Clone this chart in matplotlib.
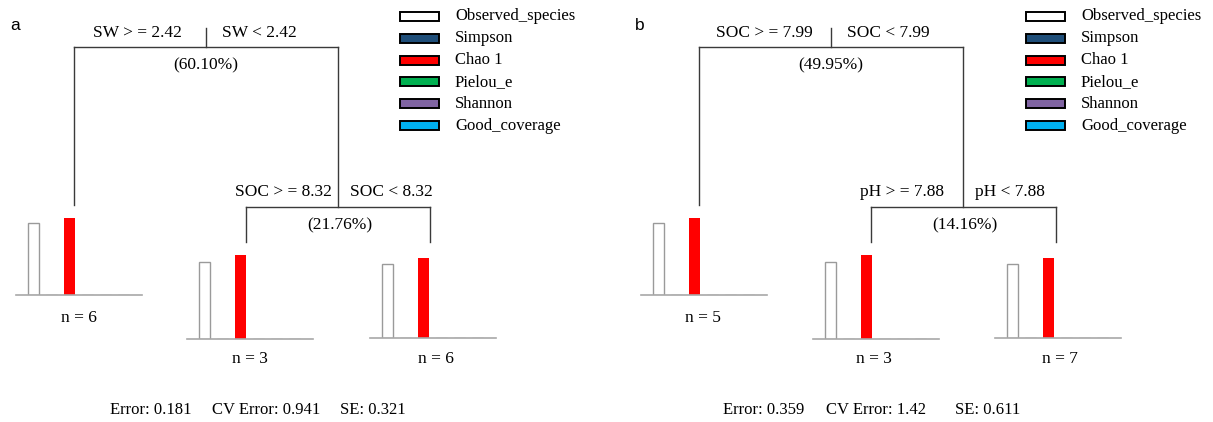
import matplotlib
matplotlib.use("Agg")
import matplotlib.pyplot as plt
from matplotlib.patches import Rectangle

plt.rcParams['font.family'] = ['Liberation Serif', 'DejaVu Serif']

# response variables shown in every leaf
variables = ["Observed_species", "Simpson", "Chao 1", "Pielou_e", "Shannon", "Good_coverage"]
var_colors = ["#ffffff", "#1f4e79", "#ff0000", "#00b050", "#8064a2", "#00b0f0"]

# panel a: splits, explained variance, leaf means and sizes
a_root_split = ["SW > = 2.42", "SW < 2.42"]
a_root_pct = "(60.10%)"
a_sub_split = ["SOC > = 8.32", "SOC < 8.32"]
a_sub_pct = "(21.76%)"
a_leaf_n = [6, 3, 6]
a_obs = [1640, 1750, 1680]
a_simpson = [1, 1, 1]
a_chao = [1750, 1910, 1820]
a_pielou = [0.7, 0.7, 0.7]
a_shannon = [7, 7, 7]
a_good = [1, 1, 1]
a_err = ["Error: 0.181", "CV Error: 0.941", "SE: 0.321"]

# panel b
b_root_split = ["SOC > = 7.99", "SOC < 7.99"]
b_root_pct = "(49.95%)"
b_sub_split = ["pH > = 7.88", "pH < 7.88"]
b_sub_pct = "(14.16%)"
b_leaf_n = [5, 3, 7]
b_obs = [1640, 1750, 1680]
b_simpson = [1, 1, 1]
b_chao = [1750, 1910, 1820]
b_pielou = [0.7, 0.7, 0.7]
b_shannon = [7, 7, 7]
b_good = [1, 1, 1]
b_err = ["Error: 0.359", "CV Error: 1.42", "SE: 0.611"]

W, H = 1213, 422
fig = plt.figure(figsize=(W / 100, H / 100), dpi=100)
ax = fig.add_axes([0, 0, 1, 1])
ax.set_xlim(0, W)
ax.set_ylim(H, 0)
ax.axis('off')

LC = "#3a3a3a"
FS = 12.5


def leaf(left, base, vals):
    lax = fig.add_axes([left / W, 1 - base / H, 126 / W, 88 / H])
    lax.patch.set_visible(False)
    lax.axis('off')
    lax.set_xlim(-0.97, 6.03)
    lax.set_ylim(0, 2000)
    edges = ["#9a9a9a", "#9a9a9a", "none", "#9a9a9a", "#9a9a9a", "#9a9a9a"]
    lax.bar(range(len(vals)), vals, width=0.61, color=var_colors,
            edgecolor=edges, linewidth=1.0)
    lax.axhline(0, color="#a8a8a8", lw=1.2, clip_on=False)


def panel(dx, label, root_split, root_pct, sub_split, sub_pct, ns, cols, errs,
          sub_x, sub_l, sub_r, leaf_pos, n_pos, err_x, leg_x, root_gap, sub_gap):
    rx = dx + 206
    lx = dx + 74
    ax.text(dx + 10, 25, label, family='Liberation Sans', fontsize=12.5,
            va='center', ha='left')
    # root split
    ax.plot([rx, rx], [28, 47], color=LC, lw=1)
    ax.plot([lx, sub_x], [47, 47], color=LC, lw=1)
    ax.plot([lx, lx], [47, 205], color=LC, lw=1)
    ax.plot([sub_x, sub_x], [47, 207], color=LC, lw=1)
    ax.text(rx - root_gap[0], 33, root_split[0], ha='right', va='center', fontsize=FS)
    ax.text(rx + root_gap[1], 33, root_split[1], ha='left', va='center', fontsize=FS)
    ax.text(rx, 65, root_pct, ha='center', va='center', fontsize=FS)
    # second split
    ax.plot([sub_l, sub_r], [207, 207], color=LC, lw=1)
    ax.plot([sub_l, sub_l], [207, 242], color=LC, lw=1)
    ax.plot([sub_r, sub_r], [207, 242], color=LC, lw=1)
    ax.text(sub_x - sub_gap[0], 192, sub_split[0], ha='right', va='center', fontsize=FS)
    ax.text(sub_x + sub_gap[1], 192, sub_split[1], ha='left', va='center', fontsize=FS)
    ax.text(sub_x + 2, 225, sub_pct, ha='center', va='center', fontsize=FS)
    # leaves
    for i in range(3):
        vals = [c[i] for c in cols]
        leaf(leaf_pos[i][0], leaf_pos[i][1], vals)
        ax.text(n_pos[i][0], n_pos[i][1], "n = %d" % ns[i], ha='center',
                va='center', fontsize=FS)
    # error line
    for t, x in zip(errs, err_x):
        ax.text(x, 410, t, ha='left', va='center', fontsize=12)
    # legend
    for j, (name, c) in enumerate(zip(variables, var_colors)):
        y = 16.5 + j * 21.8
        ax.add_patch(Rectangle((leg_x, y - 4.5), 39, 9, facecolor=c,
                               edgecolor='black', lw=1.4))
        ax.text(leg_x + 55, y, name, ha='left', va='center', fontsize=12)


panel(0, "a", a_root_split, a_root_pct, a_sub_split, a_sub_pct, a_leaf_n,
      [a_obs, a_simpson, a_chao, a_pielou, a_shannon, a_good], a_err,
      338, 246, 430, [(16, 295), (187, 339), (370, 338)],
      [(79, 318), (250, 359), (436, 359)], [110, 212, 340], 400,
      (24, 16), (6, 12))

panel(625, "b", b_root_split, b_root_pct, b_sub_split, b_sub_pct, b_leaf_n,
      [b_obs, b_simpson, b_chao, b_pielou, b_shannon, b_good], b_err,
      963, 871, 1056, [(641, 295), (813, 339), (995, 338)],
      [(703, 318), (874, 359), (1060, 359)], [723, 826, 955], 1026,
      (18, 16), (19, 12))

fig.savefig("out.png", dpi=100)
